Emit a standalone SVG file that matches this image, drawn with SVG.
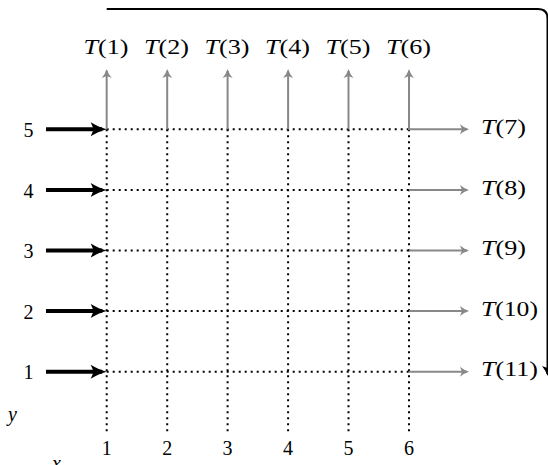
<svg xmlns="http://www.w3.org/2000/svg" width="548" height="465" viewBox="0 0 548 465">
<defs>
<style>
.lbl{font-family:'Liberation Serif','DejaVu Serif',serif;font-size:20px;fill:#000}
.tl{font-size:21px}
.it{font-style:italic}
.dot{stroke:#000;stroke-width:2;stroke-dasharray:2 4;fill:none}
.gray{stroke:#888;stroke-width:2;fill:none}
.blk{stroke:#000;stroke-width:4;fill:none}
.frame{stroke:#000;stroke-width:2;fill:none}
</style>
<marker id="ga" markerUnits="userSpaceOnUse" viewBox="-12 -7 16 14" markerWidth="16" markerHeight="14" refX="0" refY="0" orient="auto">
<path d="M2,0 Q-3,-1.5 -7,-5 L-5,0 L-7,5 Q-3,1.5 2,0 Z" fill="#888"/>
</marker>
<marker id="ba" markerUnits="userSpaceOnUse" viewBox="-16 -9 22 18" markerWidth="22" markerHeight="18" refX="0" refY="0" orient="auto">
<path d="M4.5,0 C-1,-1.5 -6,-3.8 -11.5,-7 L-8.5,0 L-11.5,7 C-6,3.8 -1,1.5 4.5,0 Z" fill="#000"/>
</marker>
<marker id="fa" markerUnits="userSpaceOnUse" viewBox="-12 -7 16 14" markerWidth="16" markerHeight="14" refX="0" refY="0" orient="auto">
<path d="M2,0 Q-3,-1.5 -8,-5.5 L-6,0 L-8,5.5 Q-3,1.5 2,0 Z" fill="#000"/>
</marker>
</defs>
<rect width="548" height="465" fill="#fff"/>

<g id="grid">
<line class="dot" x1="106.7" y1="129.3" x2="409" y2="129.3"/>
<line class="dot" x1="106.7" y1="189.9" x2="409" y2="189.9"/>
<line class="dot" x1="106.7" y1="250.5" x2="409" y2="250.5"/>
<line class="dot" x1="106.7" y1="311.1" x2="409" y2="311.1"/>
<line class="dot" x1="106.7" y1="371.7" x2="409" y2="371.7"/>
<line class="dot" x1="106.7" y1="129.3" x2="106.7" y2="433"/>
<line class="dot" x1="167.2" y1="129.3" x2="167.2" y2="433"/>
<line class="dot" x1="227.6" y1="129.3" x2="227.6" y2="433"/>
<line class="dot" x1="288.1" y1="129.3" x2="288.1" y2="433"/>
<line class="dot" x1="348.5" y1="129.3" x2="348.5" y2="433"/>
<line class="dot" x1="409" y1="129.3" x2="409" y2="433"/>
</g>

<g id="connectors">
<line class="gray" x1="106.7" y1="129.3" x2="106.7" y2="71" marker-end="url(#ga)"/>
<line class="gray" x1="167.2" y1="129.3" x2="167.2" y2="71" marker-end="url(#ga)"/>
<line class="gray" x1="227.6" y1="129.3" x2="227.6" y2="71" marker-end="url(#ga)"/>
<line class="gray" x1="288.1" y1="129.3" x2="288.1" y2="71" marker-end="url(#ga)"/>
<line class="gray" x1="348.5" y1="129.3" x2="348.5" y2="71" marker-end="url(#ga)"/>
<line class="gray" x1="409" y1="129.3" x2="409" y2="71" marker-end="url(#ga)"/>
<line class="gray" x1="408" y1="129.3" x2="467" y2="129.3" marker-end="url(#ga)"/>
<line class="gray" x1="409" y1="189.9" x2="467" y2="189.9" marker-end="url(#ga)"/>
<line class="gray" x1="409" y1="250.5" x2="467" y2="250.5" marker-end="url(#ga)"/>
<line class="gray" x1="409" y1="311.1" x2="467" y2="311.1" marker-end="url(#ga)"/>
<line class="gray" x1="409" y1="371.7" x2="467" y2="371.7" marker-end="url(#ga)"/>
<line class="blk" x1="46" y1="129.3" x2="102.2" y2="129.3" marker-end="url(#ba)"/>
<line class="blk" x1="46" y1="189.9" x2="102.2" y2="189.9" marker-end="url(#ba)"/>
<line class="blk" x1="46" y1="250.5" x2="102.2" y2="250.5" marker-end="url(#ba)"/>
<line class="blk" x1="46" y1="311.1" x2="102.2" y2="311.1" marker-end="url(#ba)"/>
<line class="blk" x1="46" y1="371.7" x2="102.2" y2="371.7" marker-end="url(#ba)"/>
<path class="frame" d="M106.7,9 H538 Q547.5,9 547.5,18.5 V374" marker-end="url(#fa)"/>
</g>

<g id="top-labels" class="lbl tl" font-family="Liberation Serif, DejaVu Serif, serif" text-anchor="middle">
<text x="106" y="54" textLength="45" lengthAdjust="spacingAndGlyphs"><tspan class="it">T</tspan>(1)</text>
<text x="166.5" y="54" textLength="45" lengthAdjust="spacingAndGlyphs"><tspan class="it">T</tspan>(2)</text>
<text x="227" y="54" textLength="45" lengthAdjust="spacingAndGlyphs"><tspan class="it">T</tspan>(3)</text>
<text x="287.5" y="54" textLength="45" lengthAdjust="spacingAndGlyphs"><tspan class="it">T</tspan>(4)</text>
<text x="348" y="54" textLength="45" lengthAdjust="spacingAndGlyphs"><tspan class="it">T</tspan>(5)</text>
<text x="408.5" y="54" textLength="45" lengthAdjust="spacingAndGlyphs"><tspan class="it">T</tspan>(6)</text>
</g>

<g id="right-labels" class="lbl tl" font-family="Liberation Serif, DejaVu Serif, serif">
<text x="481" y="134" textLength="45" lengthAdjust="spacingAndGlyphs"><tspan class="it">T</tspan>(7)</text>
<text x="481" y="194.6" textLength="45" lengthAdjust="spacingAndGlyphs"><tspan class="it">T</tspan>(8)</text>
<text x="481" y="255.2" textLength="45" lengthAdjust="spacingAndGlyphs"><tspan class="it">T</tspan>(9)</text>
<text x="481" y="315.8" textLength="57" lengthAdjust="spacingAndGlyphs"><tspan class="it">T</tspan>(10)</text>
<text x="481" y="376.4" textLength="57" lengthAdjust="spacingAndGlyphs"><tspan class="it">T</tspan>(11)</text>
</g>

<g id="row-labels" class="lbl" font-family="Liberation Serif, DejaVu Serif, serif" text-anchor="middle">
<text x="28.5" y="137">5</text>
<text x="28.5" y="197.6">4</text>
<text x="28.5" y="258.2">3</text>
<text x="28.5" y="318.8">2</text>
<text x="28.5" y="379.4">1</text>
</g>

<g id="col-labels" class="lbl" font-family="Liberation Serif, DejaVu Serif, serif" text-anchor="middle">
<text x="106.7" y="455">1</text>
<text x="167.2" y="455">2</text>
<text x="227.6" y="455">3</text>
<text x="288.1" y="455">4</text>
<text x="348.5" y="455">5</text>
<text x="409" y="455">6</text>
</g>

<g id="axis-labels" class="lbl it" font-family="Liberation Serif, DejaVu Serif, serif">
<text x="8" y="421">y</text>
<text x="52" y="470">x</text>
</g>
</svg>
